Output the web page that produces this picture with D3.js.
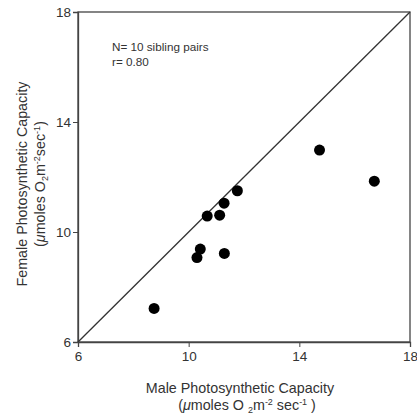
<!DOCTYPE html>
<html><head><meta charset="utf-8">
<script src="https://cdn.jsdelivr.net/npm/d3@7"></script>
<style>body{margin:0;background:#fff;} text{font-family:"Liberation Sans",Arial,sans-serif;fill:#333;}</style>
</head><body><svg id="c" width="417" height="414"></svg>
<script>
const maleValues = [8.75, 10.30, 10.42, 11.29, 10.67, 11.12, 11.28, 11.76, 14.73, 16.71];
const femaleValues = [7.22, 9.07, 9.38, 9.22, 10.58, 10.61, 11.05, 11.50, 12.98, 11.85];
const xTicks = [6, 10, 14, 18];
const yTicks = [6, 10, 14, 18];
const annotations = ["N= 10 sibling pairs", "r= 0.80"];

const svg = d3.select("#c");
const x = d3.scaleLinear().domain([6,18]).range([78,410]);
const y = d3.scaleLinear().domain([6,18]).range([342,12]);

svg.append("rect").attr("x",78).attr("y",12).attr("width",332).attr("height",330)
  .attr("fill","none").attr("stroke","#444").attr("stroke-width",1.3);

const xa = svg.append("g").attr("transform","translate(0,342)")
  .call(d3.axisBottom(x).tickValues(xTicks).tickSize(5).tickPadding(4).tickFormat(d3.format("d")));
const ya = svg.append("g").attr("transform","translate(78,0)")
  .call(d3.axisLeft(y).tickValues(yTicks).tickSize(5).tickPadding(2).tickFormat(d3.format("d")));
[xa,ya].forEach(a=>{
  a.select(".domain").attr("stroke","#444").attr("stroke-width",1.3);
  a.selectAll(".tick line").attr("stroke","#444");
  a.selectAll("text").attr("font-size",13.5).attr("fill","#444").style("font-family","Liberation Sans, Arial, sans-serif");
});

svg.append("line").attr("x1",x(6)).attr("y1",y(6)).attr("x2",x(18)).attr("y2",y(18))
  .attr("stroke","#333").attr("stroke-width",1.3);

svg.selectAll("circle.pt").data(maleValues.map((m,i)=>[m,femaleValues[i]])).enter()
  .append("circle").attr("class","pt").attr("cx",d=>x(d[0])).attr("cy",d=>y(d[1]))
  .attr("r",5.5).attr("fill","#000");

svg.append("text").attr("x",112).attr("y",51).attr("font-size",11.7).text(annotations[0]);
svg.append("text").attr("x",112).attr("y",66).attr("font-size",11.7).text(annotations[1]);

const LS = 14.3, SS = 9;
const xl = svg.append("text").attr("x",240).attr("y",393).attr("text-anchor","middle").attr("font-size",LS);
xl.text("Male Photosynthetic Capacity");
const xl2 = svg.append("text").attr("x",247).attr("y",410).attr("text-anchor","middle").attr("font-size",LS);
xl2.append("tspan").text("(");
xl2.append("tspan").attr("font-style","italic").text("μ");
xl2.append("tspan").text("moles O ");
xl2.append("tspan").attr("font-size",SS).attr("dy",3).text("2");
xl2.append("tspan").attr("dy",-3).text("m");
xl2.append("tspan").attr("font-size",SS).attr("dy",-5).text("-2");
xl2.append("tspan").attr("dy",5).text(" sec");
xl2.append("tspan").attr("font-size",SS).attr("dy",-5).text("-1");
xl2.append("tspan").attr("dy",5).text(" )");

const yl = svg.append("g").attr("transform","translate(27,184) rotate(-90)");
yl.append("text").attr("text-anchor","middle").attr("font-size",LS).text("Female Photosynthetic Capacity");
const yl2 = yl.append("text").attr("y",18).attr("text-anchor","middle").attr("font-size",LS);
yl2.append("tspan").text("(");
yl2.append("tspan").attr("font-style","italic").text("μ");
yl2.append("tspan").text("moles O");
yl2.append("tspan").attr("font-size",SS).attr("dy",3).text("2");
yl2.append("tspan").attr("dy",-3).text("m");
yl2.append("tspan").attr("font-size",SS).attr("dy",-5).text("-2");
yl2.append("tspan").attr("dy",5).text("sec");
yl2.append("tspan").attr("font-size",SS).attr("dy",-5).text("-1");
yl2.append("tspan").attr("dy",5).text(")");
</script></body></html>
